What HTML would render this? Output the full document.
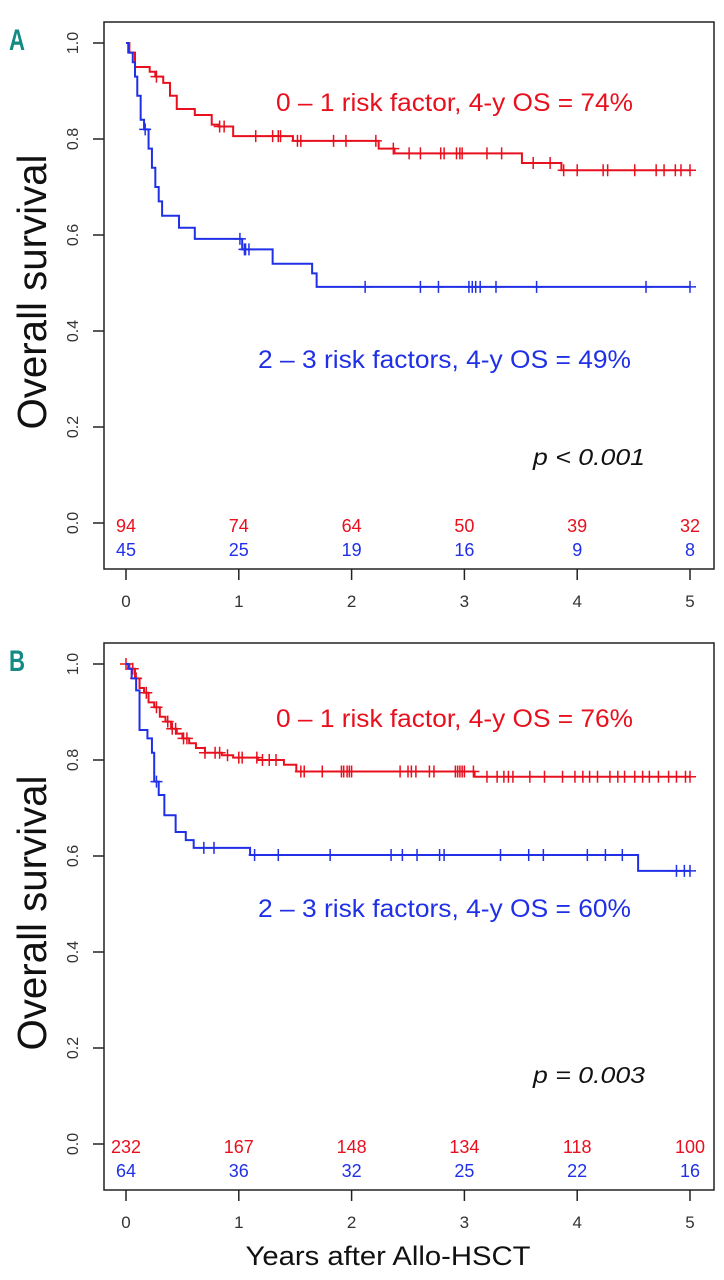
<!DOCTYPE html>
<html><head><meta charset="utf-8">
<style>
html,body{margin:0;padding:0;background:#fff;}
svg{display:block;font-family:"Liberation Sans",Arial,sans-serif;}
</style></head>
<body>
<svg id="fig" width="724" height="1280" viewBox="0 0 724 1280" xmlns="http://www.w3.org/2000/svg"></svg>
<script>
// ---------- DATA ----------
const xTicks = [0,1,2,3,4,5];
const yTicks = [0.0,0.2,0.4,0.6,0.8,1.0];
const yTickLabels = ["0.0","0.2","0.4","0.6","0.8","1.0"];

// Panel A
const aRedTimes = [0,0.03,0.08,0.21,0.26,0.33,0.39,0.45,0.61,0.76,0.82,0.95,1.48,2.24,2.38,3.51,3.86];
const aRedSurv  = [1,0.98,0.95,0.94,0.93,0.917,0.89,0.8625,0.85,0.83,0.826,0.806,0.796,0.78,0.77,0.75,0.735];
const aRedCens  = [0.27,0.83,0.87,1.15,1.30,1.35,1.37,1.52,1.55,1.84,1.95,2.215,2.37,2.51,2.61,2.79,2.82,2.93,2.96,2.98,3.20,3.33,3.61,3.76,3.88,4.0,4.23,4.27,4.51,4.70,4.77,4.87,4.92,5.0];
const aBlueTimes = [0,0.02,0.06,0.08,0.10,0.13,0.16,0.20,0.23,0.26,0.29,0.32,0.47,0.61,1.03,1.30,1.65,1.69];
const aBlueSurv  = [1,0.98,0.96,0.93,0.89,0.84,0.82,0.78,0.74,0.70,0.67,0.64,0.615,0.592,0.57,0.54,0.52,0.492];
const aBlueCens  = [0.17,1.01,1.05,1.06,1.09,2.12,2.61,2.77,3.04,3.07,3.10,3.14,3.28,3.64,4.61,5.0];
const aRiskRed  = [94,74,64,50,39,32];
const aRiskBlue = [45,25,19,16,9,8];

// Panel B
const bRedTimes = [0,0.03,0.08,0.12,0.16,0.20,0.25,0.30,0.35,0.40,0.45,0.50,0.56,0.62,0.70,0.85,0.95,1.17,1.40,1.51,3.09];
const bRedSurv  = [1,0.99,0.97,0.95,0.94,0.92,0.91,0.89,0.88,0.865,0.855,0.845,0.835,0.825,0.815,0.81,0.805,0.80,0.79,0.776,0.765];
const bRedCens  = [0.0,0.06,0.09,0.18,0.27,0.37,0.41,0.44,0.51,0.54,0.70,0.79,0.83,0.90,1.0,1.03,1.16,1.21,1.27,1.33,1.55,1.58,1.74,1.91,1.93,1.96,1.98,2.0,2.43,2.5,2.53,2.57,2.69,2.73,2.92,2.94,2.96,2.98,3.0,3.08,3.2,3.29,3.35,3.39,3.43,3.58,3.71,3.87,3.98,4.05,4.11,4.18,4.29,4.36,4.42,4.51,4.58,4.64,4.72,4.81,4.88,4.96,5.0];
const bBlueTimes = [0,0.02,0.05,0.09,0.12,0.19,0.23,0.25,0.29,0.34,0.44,0.53,0.60,1.10,4.54];
const bBlueSurv  = [1,0.99,0.97,0.945,0.8625,0.845,0.815,0.755,0.727,0.685,0.65,0.633,0.617,0.602,0.569];
const bBlueCens  = [0.27,0.69,0.78,1.14,1.35,1.81,2.35,2.45,2.58,2.78,2.82,3.32,3.57,3.70,4.09,4.25,4.40,4.88,4.95,5.0];
const bRiskRed  = [232,167,148,134,118,100];
const bRiskBlue = [64,36,32,25,22,16];

// ---------- DRAWING ----------
const NS = "http://www.w3.org/2000/svg";
const svg = document.getElementById('fig');
const RED = "#e8101e", BLUE = "#2030e6";
const X0 = 126, XS = 112.8;
function xScale(t){ return X0 + t*XS; }
function mk(tag, attrs, parent){
  const e = document.createElementNS(NS, tag);
  for (const k in attrs) e.setAttribute(k, attrs[k]);
  (parent||svg).appendChild(e);
  return e;
}

function panel(off, letter, rT, rS, rC, bT, bS, bC, riskR, riskB, redLbl, blueLbl, pLbl, pname){
  const g = mk('g', {});
  
  
  const yScale = s => off + 523 - s*480;

  const box = mk('rect', {x:104, y:off+22, width:610, height:547, fill:'none', stroke:'#222', 'stroke-width':1.5}, g);
  
  

  const lt = mk('text', {x:9, y:off+50, fill:'#138a84', 'font-size':30, 'font-weight':'bold', textLength:16, lengthAdjust:'spacingAndGlyphs'}, g);
  lt.textContent = letter;
  
  

  yTicks.forEach((v,i)=>{
    const y = yScale(v);
    const tk = mk('line', {x1:93, x2:104, y1:y, y2:y, stroke:'#222', 'stroke-width':1.5}, g);
    
    
    const tl = mk('text', {x:0, y:0, transform:`translate(78,${y}) rotate(-90)`, 'text-anchor':'middle', 'font-size':16, fill:'#333'}, g);
    tl.textContent = yTickLabels[i];
    
    
  });
  const yt = mk('text', {x:0, y:0, transform:`translate(46,${off+292}) rotate(-90)`, 'text-anchor':'middle', 'font-size':41, fill:'#111', textLength:275, lengthAdjust:'spacingAndGlyphs'}, g);
  yt.textContent = 'Overall survival';
  
  

  xTicks.forEach(v=>{
    const x = xScale(v);
    const tk = mk('line', {x1:x, x2:x, y1:off+569, y2:off+580, stroke:'#222', 'stroke-width':1.5}, g);
    
    
    const tl = mk('text', {x:x, y:off+607, 'text-anchor':'middle', 'font-size':17, fill:'#333'}, g);
    tl.textContent = String(v);
    
    
  });

  function curve(T, S, C, color, name){
    let d = `M${xScale(T[0])},${yScale(S[0])}`;
    for (let i=1;i<T.length;i++){
      d += ` H${xScale(T[i])} V${yScale(S[i])}`;
    }
    d += ` H${xScale(5)}`;
    const p = mk('path', {d:d, fill:'none', stroke:color, 'stroke-width':2}, g);
    
    
    C.forEach(t=>{
      let s = S[0];
      for (let i=0;i<T.length;i++) if (T[i] <= t) s = S[i];
      const x = xScale(t), y = yScale(s);
      const c = mk('path', {d:`M${x},${y-6} V${y+6} M${x-6},${y} H${x+6}`, stroke:color, 'stroke-width':1.5}, g);
      
      
    });
  }
  curve(rT, rS, rC, RED, 'low-risk');
  curve(bT, bS, bC, BLUE, 'high-risk');

  riskR.forEach((n,i)=>{
    const t = mk('text', {x:xScale(xTicks[i]), y:off+532, 'text-anchor':'middle', 'font-size':18, fill:RED}, g);
    t.textContent = String(n);
    
    
  });
  riskB.forEach((n,i)=>{
    const t = mk('text', {x:xScale(xTicks[i]), y:off+556, 'text-anchor':'middle', 'font-size':18, fill:BLUE}, g);
    t.textContent = String(n);
    
    
  });

  const rl = mk('text', {x:276, y:redLbl[1], 'font-size':25, fill:RED, textLength:357, lengthAdjust:'spacingAndGlyphs'}, g);
  rl.textContent = redLbl[0];
  
  
  const bl = mk('text', {x:258, y:blueLbl[1], 'font-size':25, fill:BLUE, textLength:373, lengthAdjust:'spacingAndGlyphs'}, g);
  bl.textContent = blueLbl[0];
  
  
  const pl = mk('text', {x:533, y:pLbl[1], 'font-size':23, 'font-style':'italic', fill:'#111', textLength:112, lengthAdjust:'spacingAndGlyphs'}, g);
  pl.textContent = pLbl[0];
  
  
}

panel(0, 'A', aRedTimes, aRedSurv, aRedCens, aBlueTimes, aBlueSurv, aBlueCens, aRiskRed, aRiskBlue,
  ['0 – 1 risk factor, 4-y OS = 74%', 111], ['2 – 3 risk factors, 4-y OS = 49%', 368], ['p < 0.001', 465], 'panel-a');
panel(621, 'B', bRedTimes, bRedSurv, bRedCens, bBlueTimes, bBlueSurv, bBlueCens, bRiskRed, bRiskBlue,
  ['0 – 1 risk factor, 4-y OS = 76%', 727], ['2 – 3 risk factors, 4-y OS = 60%', 917], ['p = 0.003', 1083], 'panel-b');

const xl = mk('text', {x:388, y:1265, 'text-anchor':'middle', 'font-size':27, fill:'#111', textLength:285, lengthAdjust:'spacingAndGlyphs'});
xl.textContent = 'Years after Allo-HSCT';


</script>
</body></html>
